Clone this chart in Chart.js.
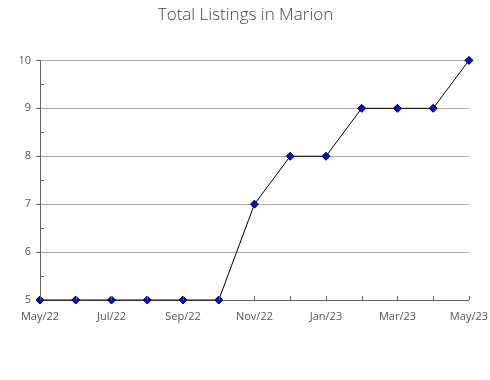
<!DOCTYPE html>
<html>
<head>
<meta charset="utf-8">
<script src="https://cdn.jsdelivr.net/npm/chart.js"></script>
<style>
  html, body { margin: 0; padding: 0; background: #fff; }
</style>
</head>
<body>
<canvas id="chart" width="490" height="380"></canvas>
<script>
// data
const months = ["May/22", "Jun/22", "Jul/22", "Aug/22", "Sep/22", "Oct/22", "Nov/22",
  "Dec/22", "Jan/23", "Feb/23", "Mar/23", "Apr/23", "May/23"];
const listings = [5, 5, 5, 5, 5, 5, 7, 8, 8, 9, 9, 9, 10];
const yTicks = [5, 6, 7, 8, 9, 10];

// small inward ticks: half steps on y, every month on x
const innerTicks = {
  id: "innerTicks",
  afterDraw(chart) {
    const { ctx, scales } = chart;
    const x = scales.x, y = scales.y;
    ctx.save();
    ctx.strokeStyle = "#666";
    ctx.lineWidth = 1;
    ctx.beginPath();
    for (let v = 5.5; v < 10; v += 1) {
      const py = Math.round(y.getPixelForValue(v)) + 0.5;
      ctx.moveTo(x.left, py);
      ctx.lineTo(x.left + 4, py);
    }
    months.forEach((m, i) => {
      const px = Math.round(x.getPixelForValue(i)) + 0.5;
      ctx.moveTo(px, y.bottom);
      ctx.lineTo(px, y.bottom - 4);
    });
    ctx.stroke();
    ctx.restore();
  }
};

new Chart(document.getElementById("chart"), {
  type: "line",
  data: {
    labels: months,
    datasets: [{
      data: listings,
      borderColor: "#000",
      borderWidth: 1,
      tension: 0,
      pointStyle: "rectRot",
      pointRadius: 4,
      pointBackgroundColor: "#0000ff",
      pointBorderColor: "#000",
      pointBorderWidth: 1,
      clip: false
    }]
  },
  options: {
    responsive: false,
    animation: false,
    layout: { padding: { left: 20, right: 19, top: 0, bottom: 0 } },
    plugins: {
      legend: { display: false },
      tooltip: { enabled: false },
      title: {
        display: true,
        text: "Total Listings in Marion",
        color: "#444",
        font: { family: "Open Sans", size: 17, weight: 300 },
        padding: { top: 5, bottom: 35 }
      }
    },
    scales: {
      x: {
        type: "category",
        offset: false,
        afterFit: (s) => { s.height = 80; },
        grid: { display: false },
        border: { display: true, color: "#666" },
        ticks: {
          autoSkip: false,
          maxRotation: 0,
          padding: 2,
          color: "#555",
          font: { family: "Open Sans", size: 11 },
          callback: (v, i) => (i % 2 === 0 ? months[i] : "")
        }
      },
      y: {
        min: 5,
        max: 10,
        afterFit: (s) => { s.width = 20; },
        afterBuildTicks: (s) => { s.ticks = yTicks.map((v) => ({ value: v })); },
        border: { display: true, color: "#666" },
        grid: {
          color: "#aaa",
          drawTicks: true,
          tickLength: 4,
          tickColor: "#666"
        },
        ticks: {
          padding: 5,
          color: "#555",
          font: { family: "Open Sans", size: 11 }
        }
      }
    }
  },
  plugins: [innerTicks]
});
</script>
</body>
</html>
